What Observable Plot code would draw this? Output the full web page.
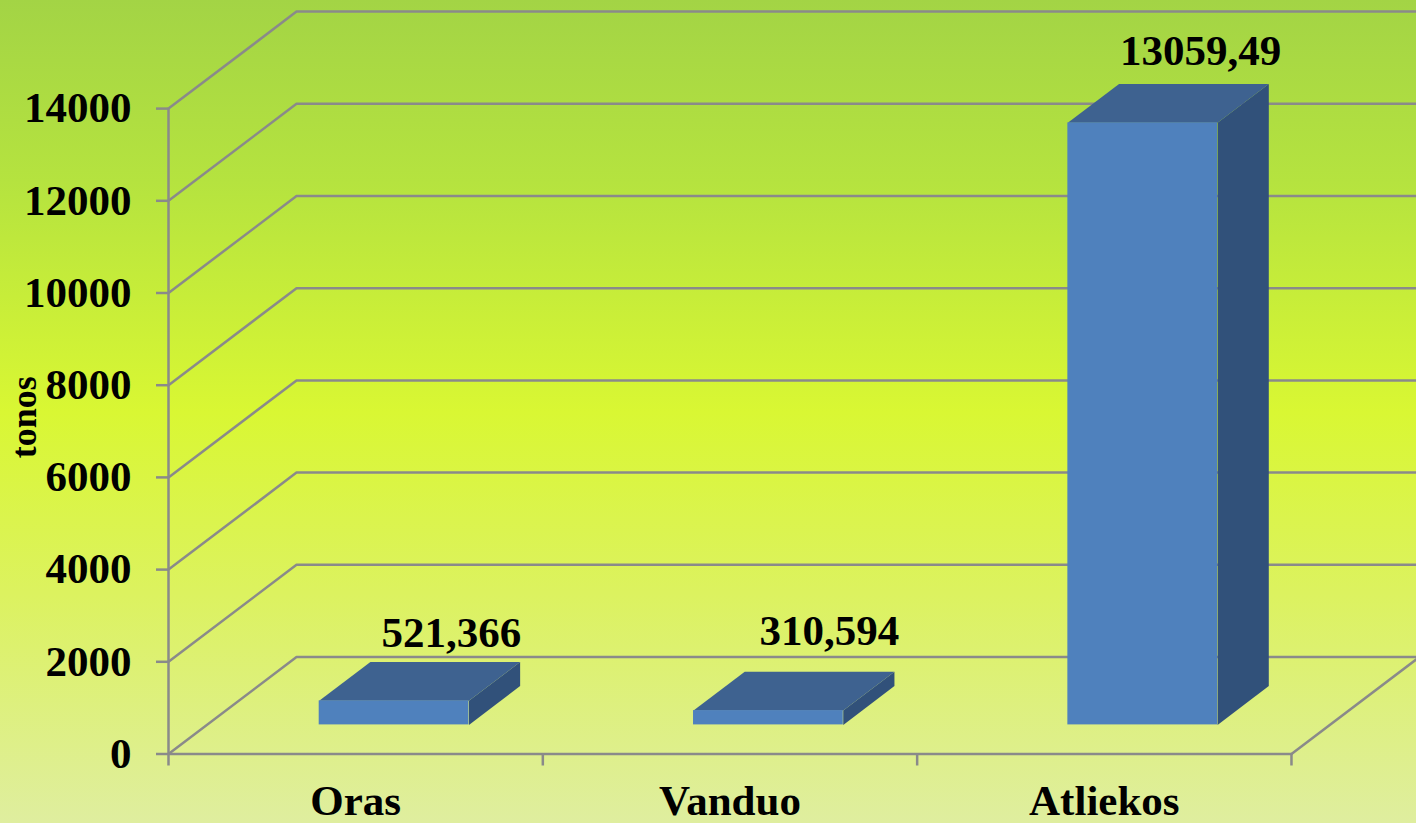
<!DOCTYPE html>
<html>
<head>
<meta charset="utf-8">
<script src="https://cdn.jsdelivr.net/npm/d3@7"></script>
<script src="https://cdn.jsdelivr.net/npm/@observablehq/plot@0.6"></script>
<style>
html,body{margin:0;padding:0;width:1416px;height:823px;overflow:hidden;
background:linear-gradient(180deg,#a3d445 0%,#b5e33f 22%,#d9f733 50%,#dcf25f 72%,#dfee9f 100%);}
svg{display:block}
</style>
</head>
<body>
<div id="chart"></div>
<script>
const categories = ["Oras", "Vanduo", "Atliekos"];
const values = [521.366, 310.594, 13059.49];
const valueLabels = ["521,366", "310,594", "13059,49"];
const labelRaise = [325, 585, 410];
const labelShift = [-0.184, -0.174, -0.182];
const yTicks = [0, 2000, 4000, 6000, 8000, 10000, 12000, 14000];
const xEdges = [0, 1, 2, 3];

const xMax = 3.334, yMax = 16345;
const depthX = 0.342, depthY = 2104;      // wall depth, in scale units
const barHalf = 0.2, barFront = 0.3, barBack = 0.7;
const grey = "#8a8a8a";
const font = "'Liberation Serif','Times New Roman',serif";

const pr = (x, v, d) => ({x: x + d * depthX, y: v + d * depthY});

// gridlines: the side wall diagonal, then the back wall
const grid = yTicks.flatMap(t => [
  {t, ...pr(0, t, 0)},
  {t, ...pr(0, t, 1)},
  {t, x: xMax, y: pr(0, t, 1).y}
]);
const floorEdge = [pr(3, 0, 0), pr(3, 0, 1)];
const baseLine = [pr(0, 0, 0), pr(3, 0, 0)];

const bars = categories.map((name, i) => ({
  name, v: values[i], x0: i + 0.5 - barHalf, x1: i + 0.5 + barHalf
}));
const fronts = bars.map(b => ({
  name: b.name,
  x1: pr(b.x0, 0, barFront).x, x2: pr(b.x1, 0, barFront).x,
  y1: pr(0, 0, barFront).y, y2: pr(0, b.v, barFront).y
}));
const tops = bars.flatMap(b => [
  pr(b.x0, b.v, barFront), pr(b.x0, b.v, barBack),
  pr(b.x1, b.v, barBack), pr(b.x1, b.v, barFront)
].map(p => ({...p, name: b.name})));
const sides = bars.flatMap(b => [
  pr(b.x1, 0, barFront), pr(b.x1, 0, barBack),
  pr(b.x1, b.v, barBack), pr(b.x1, b.v, barFront)
].map(p => ({...p, name: b.name})));
const labels = bars.map((b, i) => {
  const p = pr(b.x1, b.v, barBack);
  return {text: valueLabels[i], x: p.x + labelShift[i], y: p.y + labelRaise[i]};
});

const chart = Plot.plot({
  width: 1416, height: 823,
  marginLeft: 168, marginRight: 0, marginTop: 0, marginBottom: 69.5,
  style: {background: "transparent", fontFamily: font, overflow: "visible"},
  x: {domain: [0, xMax]},
  y: {domain: [0, yMax]},
  marks: [
    Plot.line(grid, {x: "x", y: "y", z: "t", stroke: grey, strokeWidth: 2.5}),
    Plot.line(floorEdge, {x: "x", y: "y", stroke: grey, strokeWidth: 2.5}),
    Plot.line(baseLine, {x: "x", y: "y", stroke: grey, strokeWidth: 2.5}),
    Plot.ruleX([0], {y1: 0, y2: 14000, stroke: grey, strokeWidth: 2.5}),
    Plot.axisY({ticks: yTicks, tickSize: 12, tickPadding: 25, label: null,
      tickFormat: d => String(d), stroke: grey, strokeWidth: 2.5, fill: "black",
      fontSize: 43, fontWeight: "bold", fontFamily: font}),
    Plot.axisX({ticks: xEdges, tickSize: 12, tickFormat: () => "", label: null,
      stroke: grey, strokeWidth: 2.5}),
    Plot.axisX({ticks: categories.map((c, i) => i + 0.5), tickSize: 0, tickPadding: 30,
      label: null, tickFormat: d => categories[Math.floor(d)], fill: "black",
      fontSize: 43, fontWeight: "bold", fontFamily: font}),
    Plot.line(sides, {x: "x", y: "y", z: "name", fill: "#31517a"}),
    Plot.line(tops, {x: "x", y: "y", z: "name", fill: "#3e6290"}),
    Plot.rect(fronts, {x1: "x1", x2: "x2", y1: "y1", y2: "y2", fill: "#4f81bd"}),
    Plot.text(labels, {x: "x", y: "y", text: "text", lineAnchor: "bottom",
      textAnchor: "middle", fill: "black", fontSize: 43, fontWeight: "bold", fontFamily: font}),
    Plot.text(["tonos"], {frameAnchor: "left", dx: -144, dy: 40, rotate: -90,
      textAnchor: "middle", fill: "black", fontSize: 36, fontWeight: "bold", fontFamily: font})
  ]
});
document.getElementById("chart").appendChild(chart);
</script>
</body>
</html>
